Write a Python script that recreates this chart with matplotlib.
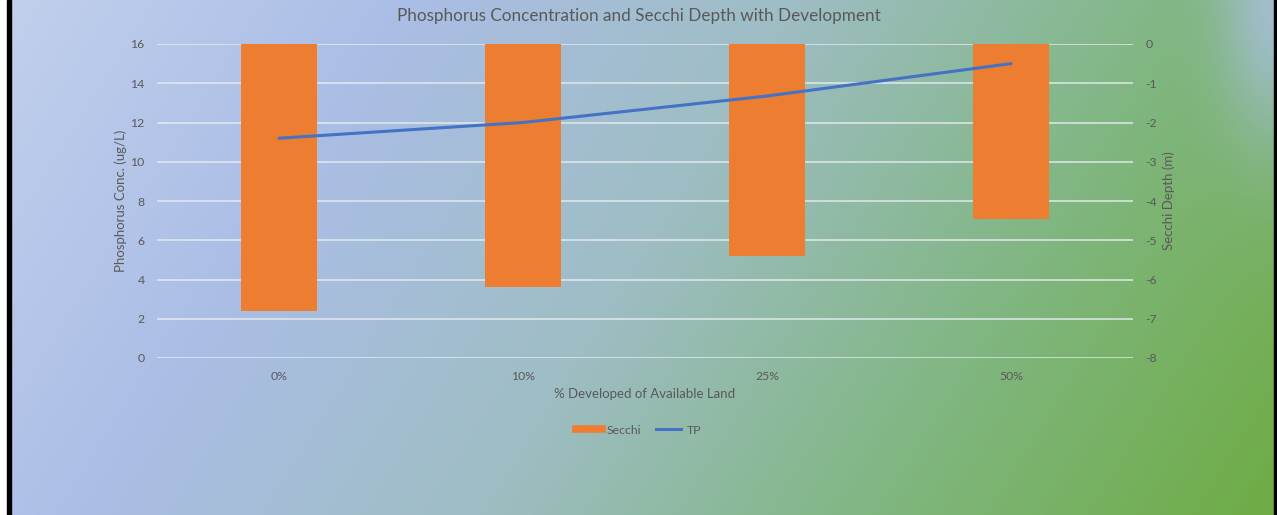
import numpy as np
import matplotlib
matplotlib.use("Agg")
import matplotlib.pyplot as plt
from matplotlib.lines import Line2D
from matplotlib.patches import Rectangle

# data
categories = ["0%", "10%", "25%", "50%"]
secchi = [-6.8, -6.2, -5.4, -4.45]
tp = [11.2, 12.0, 13.35, 15.0]

W, H = 1277, 515
fig = plt.figure(figsize=(W / 100, H / 100), dpi=100)
plt.rcParams['font.family'] = ['Lato', 'DejaVu Sans']
plt.rcParams['axes.unicode_minus'] = False

# gradient background (blue on the left -> green bottom right)
u = np.linspace(0, 1, W)[None, :]
v = np.linspace(0, 1, H)[:, None]
t = np.clip(0.8 * u + 0.2 * v, 0, 1)
stops_t = [0.0, 0.25, 0.5, 0.75, 1.0]
stops_c = np.array([[194, 208, 236], [171, 190, 230], [158, 189, 196],
                    [128, 182, 128], [110, 172, 68]]) / 255.0
img = np.zeros((H, W, 3))
for k in range(3):
    img[..., k] = np.interp(t, stops_t, stops_c[:, k])
w = 0.8 * np.exp(-((u - 1) ** 2 / 0.002 + v ** 2 / 0.08))[..., None]
img = img * (1 - w) + np.array([170, 192, 228]) / 255.0 * w

bg = fig.add_axes([0, 0, 1, 1], zorder=-10)
bg.imshow(img, aspect="auto", extent=[0, 1, 0, 1])
bg.axis("off")

# frame edges
fig.patches.append(Rectangle((0, 0), 7 / W, 1, transform=fig.transFigure,
                             color="white", zorder=5))
fig.patches.append(Rectangle((7 / W, 0), 4 / W, 1, transform=fig.transFigure,
                             color="black", zorder=5))
fig.patches.append(Rectangle((1 - 3 / W, 0), 3 / W, 1, transform=fig.transFigure,
                             color="black", zorder=5))

pos = [157 / W, 1 - 358 / H, (1133 - 157) / W, (358 - 44) / H]
ax2 = fig.add_axes(pos)
ax = fig.add_axes(pos)
ax.set_zorder(ax2.get_zorder() + 1)
ax.patch.set_visible(False)
ax2.patch.set_visible(False)

txt = "#595959"
x = np.arange(len(categories))

ax2.bar(x, secchi, width=0.31, color="#ED7D31", zorder=2)
ax2.set_ylim(-8, 0)
ax2.set_yticks(np.arange(-8, 1, 1))
ax2.yaxis.tick_right()
ax2.yaxis.set_label_position("right")
ax2.grid(axis="y", color="#e6edf0", linewidth=1.2, alpha=0.85, zorder=0)
ax2.set_axisbelow(True)
ax2.set_xticks([])
ax2.set_ylabel("Secchi Depth (m)", color=txt, fontsize=9.5, labelpad=4)

ax.plot(x, tp, color="#4472C4", linewidth=2.2, solid_capstyle="round")
ax.set_ylim(0, 16)
ax.set_yticks(np.arange(0, 17, 2))
ax.set_xlim(-0.5, 3.5)
ax2.set_xlim(-0.5, 3.5)
ax.set_xticks(x)
ax.set_xticklabels(categories)
ax.set_ylabel("Phosphorus Conc. (ug/L)", color=txt, fontsize=9.5, labelpad=2)
ax.set_xlabel("% Developed of Available Land", color=txt, fontsize=9.5, labelpad=5)

for a in (ax, ax2):
    for s in a.spines.values():
        s.set_visible(False)
    a.tick_params(length=0, colors=txt, labelsize=8.8, pad=9)

fig.text(0.5, 1 - 16 / H, "Phosphorus Concentration and Secchi Depth with Development",
         ha="center", va="center", color=txt, fontsize=12.3)

handles = [Line2D([], [], color="#ED7D31", linewidth=5.5),
           Line2D([], [], color="#4472C4", linewidth=2.2)]
fig.legend(handles, ["Secchi", "TP"], loc="center", bbox_to_anchor=(0.5, 1 - 430 / H),
           ncol=2, frameon=False, fontsize=8.8, labelcolor=txt, handlelength=2.1,
           handletextpad=0.4, columnspacing=1.2)

fig.savefig("out.png", dpi=100)
